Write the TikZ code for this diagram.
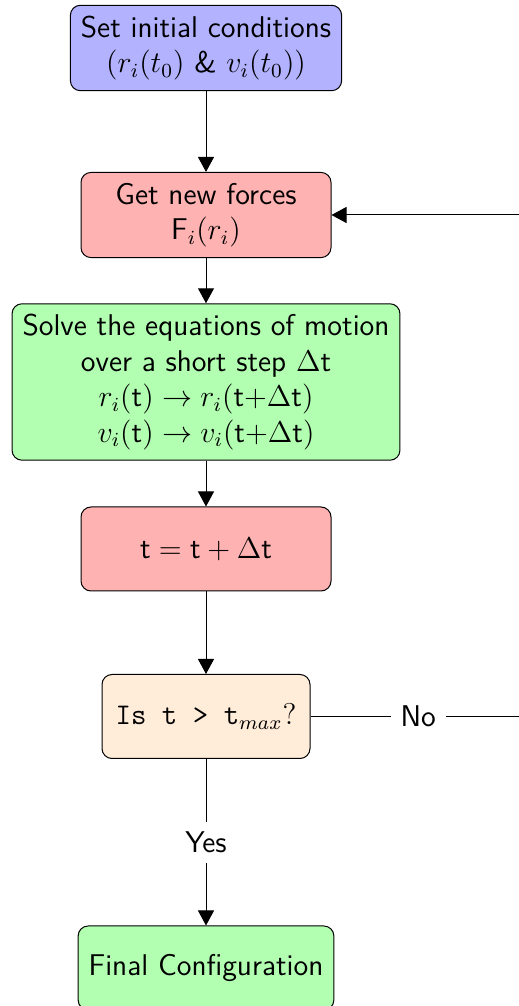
\documentclass[tikz,border=0pt]{standalone}
\usetikzlibrary{arrows.meta}
\renewcommand{\familydefault}{\sfdefault}
\begin{document}
\begin{tikzpicture}[x=1pt,y=1pt,
  every node/.style={font=\fontsize{12}{14.2}\selectfont},
  box/.style={draw, rounded corners=4pt, minimum width=100pt, minimum height=33.6pt, inner sep=4.2pt, align=center},
  arr/.style={-{Triangle[length=6pt,width=6.4pt]}},
  lbl/.style={fill=white, inner sep=4pt}]
\useasboundingbox (0,0) rectangle (207.6,402.4);
\node[box, fill=blue!30] (init) at (82.4,383.2) {Set initial conditions\\ $(r_i(t_0)$ \& $v_i(t_0))$};
\node[box, fill=red!30] (force) at (82.4,316.4) {Get new forces\\ F$_i(r_i)$};
\node[box, fill=green!30] (solve) at (82.4,249.6) {Solve the equations of motion\\ over a short step $\Delta$t\\ $r_i(\mathsf{t}) \rightarrow r_i(\mathsf{t}{+}\Delta\mathsf{t})$\\ $v_i(\mathsf{t}) \rightarrow v_i(\mathsf{t}{+}\Delta\mathsf{t})$};
\node[box, fill=red!30] (stepbox) at (82.4,182.8) {$\mathsf{t} = \mathsf{t} + \Delta\mathsf{t}$};
\node[box, fill=orange!15, minimum width=83.2pt] (check) at (82.4,115.8) {\texttt{Is t > t}$_{max}?$};
\node[box, fill=green!30] (final) at (82.4,15.2) {Final Configuration};
\coordinate (corner) at (210.4,115.8);
\draw[arr] (init) -- (force);
\draw[arr] (force) -- (solve);
\draw[arr] (solve) -- (stepbox);
\draw[arr] (stepbox) -- (check);
\draw[arr] (check) -- node[lbl]{Yes} (final);
\draw[arr] (check.east) -- node[lbl]{No} (corner) |- (force.east);
\end{tikzpicture}
\end{document}
